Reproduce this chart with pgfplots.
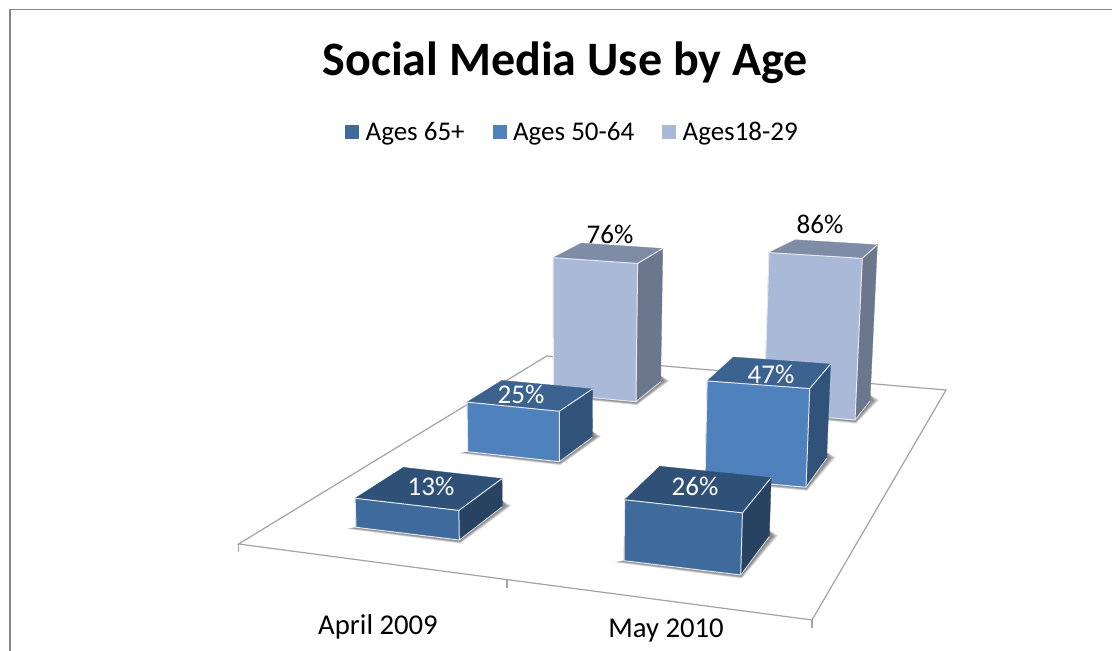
\documentclass[border=0pt]{standalone}
\usepackage{fontspec}
\setmainfont{Carlito}
\usepackage{pgfplots}
\pgfplotsset{compat=1.18}

% Face colours of the three series: front, top and side of each box
\definecolor{frontA}{HTML}{3F6A9C}\definecolor{topA}{HTML}{2F5077}\definecolor{sideA}{HTML}{284262}
\definecolor{frontB}{HTML}{4F81BD}\definecolor{topB}{HTML}{3C6290}\definecolor{sideB}{HTML}{325379}
\definecolor{frontC}{HTML}{AAB9D7}\definecolor{topC}{HTML}{7F8CA5}\definecolor{sideC}{HTML}{6B778D}
\definecolor{framegrey}{HTML}{868686}
\definecolor{floorgrey}{HTML}{A3A3A3}
\definecolor{edgewhite}{HTML}{E4E8EF}

% Perspective of the floor: a percentage point rises further the nearer
% the corner stands, and verticals spread away from x = 560.
\def\SetCorner#1#2#3,#4;{%
  \pgfmathsetmacro\barh{#2*(0.0033*#4+0.495)}%
  \pgfmathsetmacro\bartx{#3+(#3-560)*0.00016*\barh}%
  \pgfmathsetmacro\barty{#4-\barh}%
  \expandafter\def\csname #1bx\endcsname{#3}%
  \expandafter\def\csname #1by\endcsname{#4}%
  \expandafter\let\csname #1tx\endcsname\bartx
  \expandafter\let\csname #1ty\endcsname\barty
}

% Soft shadow on the floor, built from stacked translucent polygons
\newcommand\ShadowLayer[1]{%
  \pgfmathsetmacro\sa{\FLbx-10*#1}\pgfmathsetmacro\sb{\FLby+1.5*#1}%
  \pgfmathsetmacro\sc{\FRbx+1*#1}\pgfmathsetmacro\sd{\FRby+3.5*#1}%
  \pgfmathsetmacro\se{\BRbx+9*#1}\pgfmathsetmacro\sf{\BRby-1*#1}%
  \pgfmathsetmacro\sg{\BRby-6}%
  \addplot[forget plot,draw=none,fill=black,fill opacity=0.11]
    coordinates {(\sa,\sb) (\sc,\sd) (\se,\sf) (\BRbx,\sg) (\FLbx,\FLby)} --cycle;
}

% #1 series letter, #2 value in percent, #3-#6 floor corners: front left,
% front right, back right, back left
\newcommand\BarBox[6]{%
  \SetCorner{FL}{#2}#3;\SetCorner{FR}{#2}#4;\SetCorner{BR}{#2}#5;\SetCorner{BL}{#2}#6;%
  \ShadowLayer{1}\ShadowLayer{0.85}\ShadowLayer{0.7}\ShadowLayer{0.55}\ShadowLayer{0.4}%
  \addplot[forget plot,draw=side#1,line width=0.3pt,fill=side#1]
    coordinates {(\FRbx,\FRby) (\BRbx,\BRby) (\BRtx,\BRty) (\FRtx,\FRty)} --cycle;
  \addplot[forget plot,draw=top#1,line width=0.3pt,fill=top#1]
    coordinates {(\FLtx,\FLty) (\FRtx,\FRty) (\BRtx,\BRty) (\BLtx,\BLty)} --cycle;
  \addplot[forget plot,draw=front#1,line width=0.3pt,fill=front#1]
    coordinates {(\FLbx,\FLby) (\FRbx,\FRby) (\FRtx,\FRty) (\FLtx,\FLty)} --cycle;
  \addplot[forget plot,draw=edgewhite,line width=1pt,line join=round]
    coordinates {(\FLbx,\FLby) (\FLtx,\FLty) (\FRtx,\FRty) (\BRtx,\BRty)};
  \addplot[forget plot,draw=edgewhite,line width=1pt,line join=round]
    coordinates {(\FLbx,\FLby) (\FRbx,\FRby) (\FRtx,\FRty)};
  \addplot[forget plot,draw=edgewhite,line width=0.8pt]
    coordinates {(\FRbx,\FRby) (\BRbx,\BRby)};
}

\begin{document}
\begin{tikzpicture}[x=1pt,y=1pt]
% The hidden axis adds nothing to the page size, so fix the page here
\path[use as bounding box] (0,0) rectangle (1112pt,651pt);
\begin{axis}[
  at={(0,0)}, anchor=south west,
  scale only axis,
  width=1112pt, height=651pt,
  xmin=0, xmax=1112, ymin=0, ymax=651,
  y dir=reverse,
  hide axis,
  clip=true,
  legend columns=3,
  legend style={
    at={(axis cs:572.5,132)}, anchor=center,
    draw=none, fill=none, inner sep=0pt, outer sep=0pt,
    font=\fontsize{27}{31}\selectfont,
    /tikz/every odd column/.append style={column sep=5pt},
    /tikz/every even column/.append style={column sep=26pt},
  },
  legend cell align=left,
]
% Chart frame, cut off by the page on the right and at the bottom
\addplot[forget plot,draw=framegrey,line width=1.5pt]
  coordinates {(10,651) (10,9.5) (1112,9.5)};

% Floor outline and its category ticks
\addplot[forget plot,draw=floorgrey,line width=1.2pt,fill=white]
  coordinates {(238.5,544) (546.7,356) (946,390) (812,620)} --cycle;
\addplot[forget plot,draw=floorgrey,line width=1.2pt] coordinates {(238.5,544) (238.5,551.5)};
\addplot[forget plot,draw=floorgrey,line width=1.2pt] coordinates {(507,580) (507,587.5)};
\addplot[forget plot,draw=floorgrey,line width=1.2pt] coordinates {(812,620) (812,627.5)};

% Boxes from the back of the floor to the front
\BarBox{C}{76}{553.3,394}{636,401.7}{660.7,381.7}{581,374.5}
\BarBox{C}{86}{764,412}{855,420}{870,401}{790,394}
\BarBox{B}{25}{467.7,451.7}{559.3,461.7}{592.3,437.3}{502.3,428}
\BarBox{B}{47}{705,478.3}{806,487.3}{826.7,458.3}{731,450}
\BarBox{A}{13}{356,527.3}{459.3,540}{502.3,506.7}{404,495}
\BarBox{A}{26}{624,560.7}{740.7,575}{769.3,536.5}{659,524}

% Legend entries
\addlegendimage{legend image code/.code={\fill[frontA] (0pt,-6.5pt) rectangle (13pt,6.5pt);}}
\addlegendentry{Ages 65+}
\addlegendimage{legend image code/.code={\fill[frontB] (0pt,-6.5pt) rectangle (13pt,6.5pt);}}
\addlegendentry{Ages 50-64}
\addlegendimage{legend image code/.code={\fill[frontC] (0pt,-6.5pt) rectangle (13pt,6.5pt);}}
\addlegendentry{Ages18-29}

% Title, value labels and category names
\node[font=\fontsize{48}{54}\selectfont\bfseries] at (axis cs:565,62.5) {Social Media Use by Age};
\begin{scope}[every node/.style={font=\fontsize{27}{31}\selectfont}]
\node[text=black] at (axis cs:610,234.5) {76\%};
\node[text=black] at (axis cs:820,224) {86\%};
\node[text=white] at (axis cs:521,394) {25\%};
\node[text=white] at (axis cs:771,374) {47\%};
\node[text=white] at (axis cs:431,486) {13\%};
\node[text=white] at (axis cs:695,486) {26\%};
\end{scope}
\begin{scope}[every node/.style={font=\fontsize{28.7}{33}\selectfont}]
\node at (axis cs:378,626.5) {April 2009};
\node at (axis cs:666,630.5) {May 2010};
\end{scope}
\end{axis}
\end{tikzpicture}
\end{document}
